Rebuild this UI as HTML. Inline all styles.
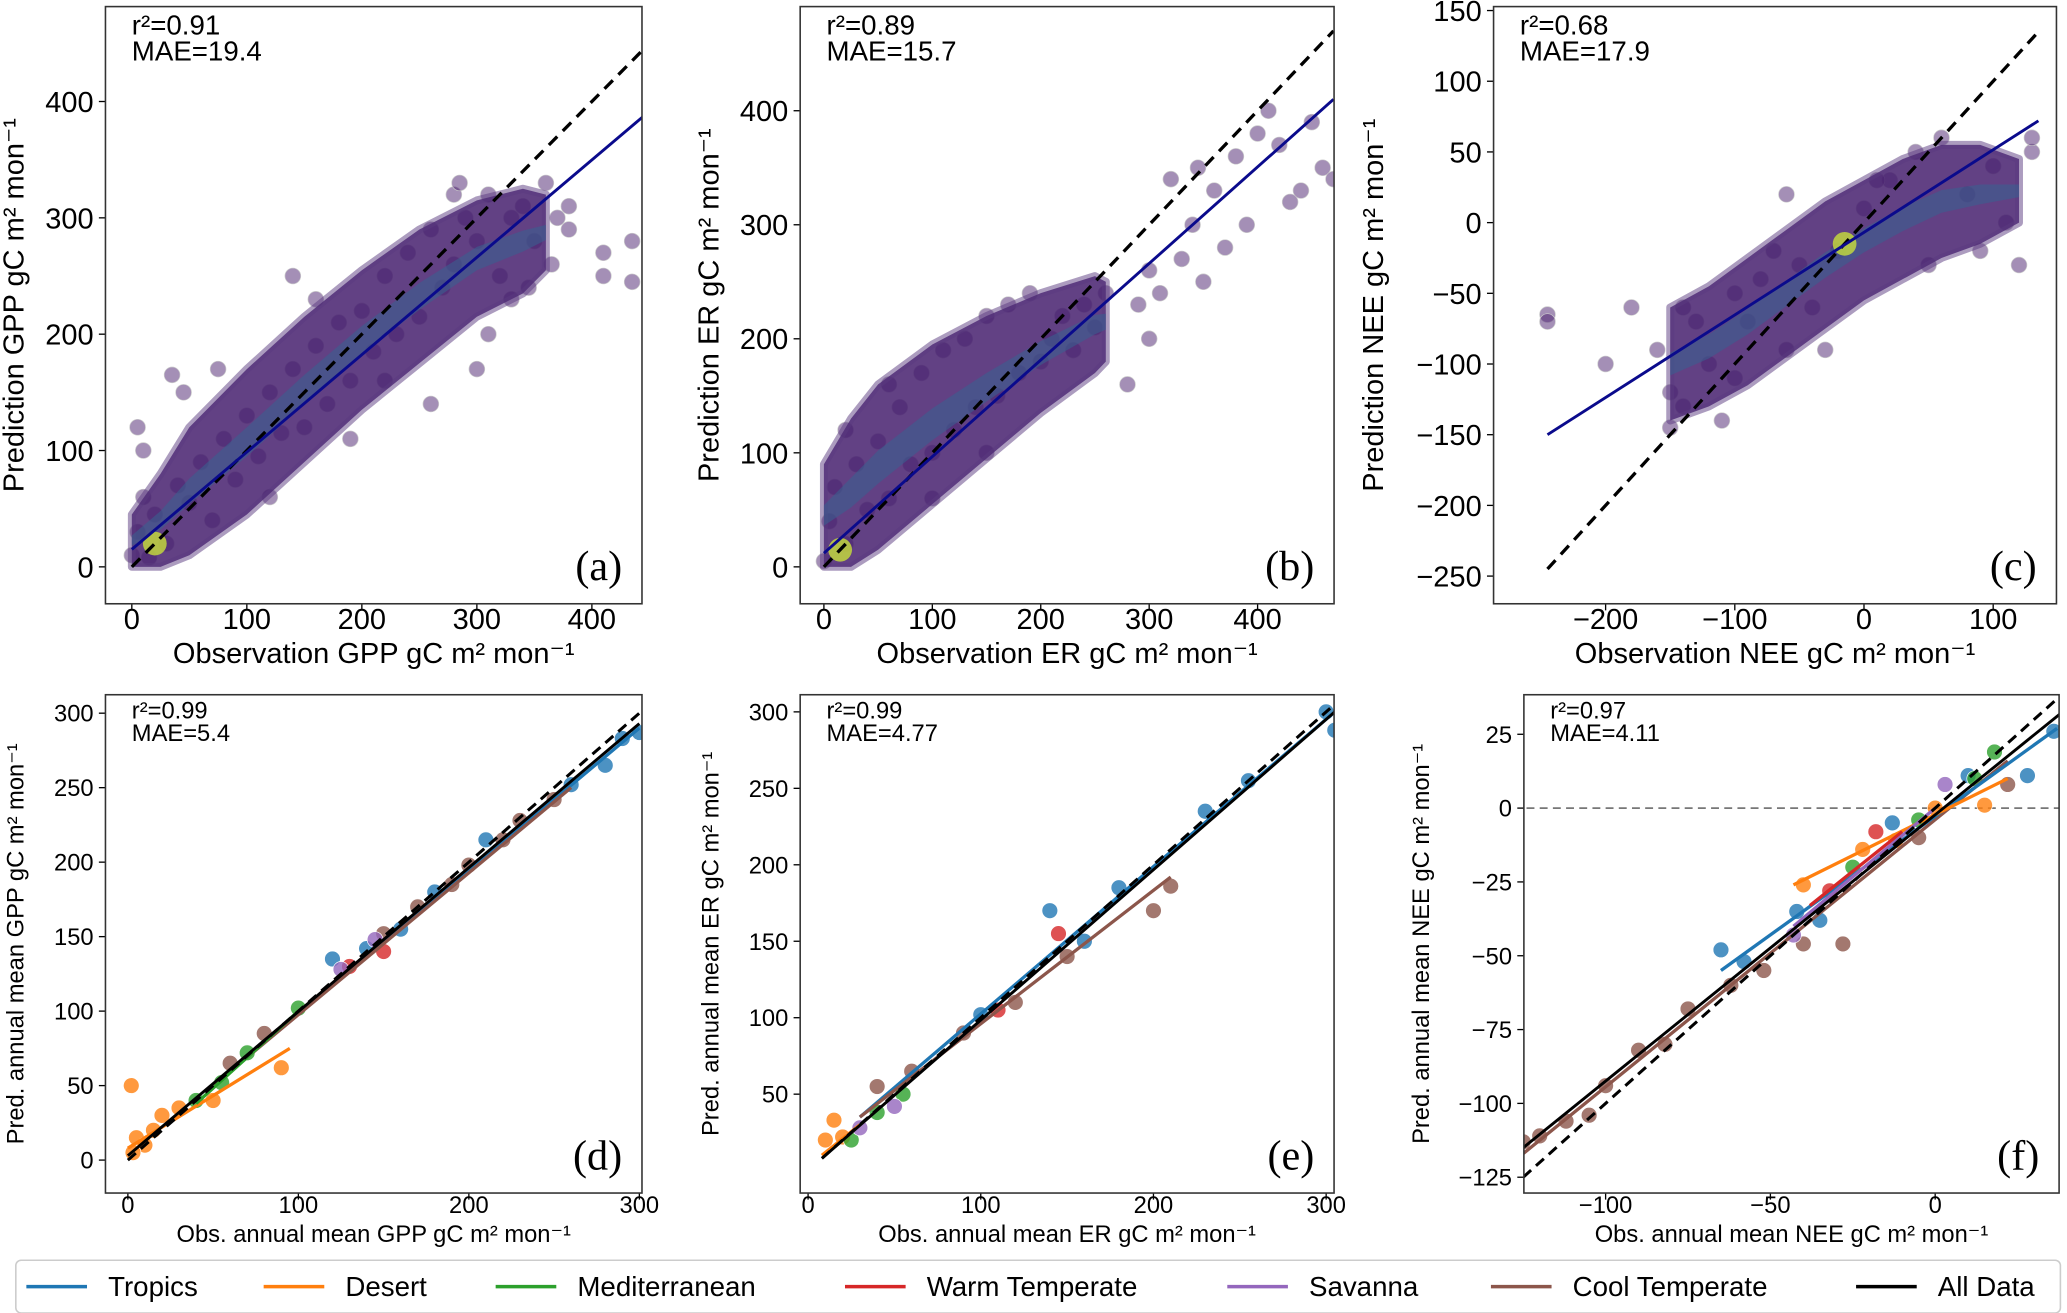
<!DOCTYPE html>
<html><head><meta charset="utf-8"><style>
html,body{margin:0;padding:0;background:#fff;}
svg{display:block;font-family:"Liberation Sans","DejaVu Sans",sans-serif;}
</style></head><body>
<svg id="fig" width="2067" height="1313" viewBox="0 0 1568 996" preserveAspectRatio="none" xmlns="http://www.w3.org/2000/svg"></svg>
<script>
// ---------- DATA ----------
const gppObs=[0,5,10,15,20,30,40,50,60,70,80,90,100,110,120,130,140,150,160,170,180,190,200,210,220,230,240,250,260,270,280,290,300,310,320,330,340,350,360,370,380,410,435,455,45,75,140,190,260,310,120,160,220,280,455,410,435,380,365,345,330,300,285,5,10,35];
const gppPred=[10,30,60,8,45,20,70,55,90,40,110,75,130,95,150,115,170,120,190,140,210,160,220,185,250,200,270,215,290,240,260,300,280,320,250,300,310,280,330,300,290,270,280,310,150,170,250,110,140,200,60,230,160,320,290,250,245,310,260,240,230,170,330,120,100,165];
const gppEnvX=[0,25,50,100,150,200,250,300,340,360];
const gppEnvLo=[0,0,10,45,90,135,175,215,235,255];
const gppEnvHi=[45,80,120,170,215,255,290,315,325,320];
const erObs=[0,5,10,20,30,40,50,60,70,80,90,100,110,120,130,140,150,160,170,180,190,200,210,220,230,240,250,260,280,300,320,340,360,380,400,420,440,460,20,60,100,150,300,350,390,410,430,450,470,370,345,330,310,290];
const erPred=[5,40,70,20,90,50,110,60,140,90,170,100,190,120,200,140,220,150,230,170,240,180,200,220,190,230,210,240,160,200,340,300,330,360,380,370,330,350,120,160,60,100,260,250,300,400,320,390,340,280,350,270,240,230];
const erEnvX=[0,25,50,100,150,200,250,260];
const erEnvLo=[0,0,15,55,95,135,170,180];
const erEnvHi=[90,130,160,195,220,240,255,250];
const neeObs=[-245,-245,-180,-160,-150,-140,-120,-100,-90,-80,-60,-50,-40,-20,0,20,40,60,80,100,110,130,-130,-110,-70,-30,10,50,90,-200,-100,-60,130,120,-140,-150];
const neePred=[-65,-70,-60,-90,-120,-130,-100,-110,-70,-40,-90,-30,-60,-20,10,30,50,60,20,40,0,50,-70,-140,-20,-90,30,-30,-20,-100,-50,20,60,-30,-60,-145];
const neeEnvX=[-150,-120,-90,-60,-30,0,30,60,90,120];
const neeEnvLo=[-140,-130,-115,-95,-75,-55,-40,-25,-15,0];
const neeEnvHi=[-60,-45,-25,-5,15,30,45,55,55,45];
const regions=["Tropics","Desert","Mediterranean","Warm Temperate","Savanna","Cool Temperate","All Data"];
const regionColors=["#1f77b4","#ff7f0e","#2ca02c","#d62728","#9467bd","#8c564b","#000000"];
// bottom panels
const dReg=[1,1,1,1,1,1,1,1,2,2,2,5,5,5,5,5,5,0,0,0,0,0,0,0,3,3,4,4,5,5,5,0,0,2,1];
const dObs=[2,5,10,15,20,30,50,90,40,70,100,60,80,150,200,230,250,120,140,160,180,210,260,300,130,150,125,145,170,190,220,280,290,55,3];
const dPred=[50,15,10,20,30,35,40,62,40,72,102,65,85,152,198,228,242,135,142,155,180,215,252,287,130,140,128,148,170,185,215,265,283,52,5];
const eReg=[1,1,1,2,2,2,4,4,5,5,5,5,5,5,0,0,0,0,0,0,3,3,5,0,0];
const eObs=[10,15,20,25,40,55,30,50,40,60,90,120,150,210,100,140,160,230,255,300,110,145,200,305,180];
const ePred=[20,33,22,20,38,50,28,42,55,65,90,110,140,186,102,170,150,235,255,300,105,155,170,288,185];
const fReg=[5,5,5,5,5,5,5,5,5,5,5,5,0,0,0,0,0,0,0,1,1,1,1,1,2,2,2,2,3,3,4,4,5,5,0];
const fObs=[-125,-120,-112,-105,-100,-90,-82,-75,-62,-52,-40,-28,-65,-58,-42,-35,-13,10,28,-40,-22,-12,0,15,-25,-5,12,18,-18,-32,-43,3,-5,22,36];
const fPred=[-113,-111,-106,-104,-94,-82,-80,-68,-60,-55,-46,-46,-48,-52,-35,-38,-5,11,11,-26,-14,-11,0,1,-20,-4,10,19,-8,-28,-43,8,-10,8,26];
// ---------- DRAW ----------
const svg=document.getElementById('fig');
const NS='http://www.w3.org/2000/svg';
function el(tag,attrs,parent,txt){const e=document.createElementNS(NS,tag);for(const k in attrs)e.setAttribute(k,attrs[k]);if(txt!==undefined)e.textContent=txt;(parent||svg).appendChild(e);return e;}
function lin(d0,d1,r0,r1){return v=>r0+(v-d0)*(r1-r0)/(d1-d0);}
function panel(p){
  const g=el('g',{});
  
  
  const X=lin(p.xd[0],p.xd[1],p.xr[0],p.xr[1]);
  const Y=lin(p.yd[0],p.yd[1],p.yr[0],p.yr[1]);
  p.X=X;p.Y=Y;p.g=g;
  const clip='clip'+p.id;
  const cp=el('clipPath',{id:clip},g);el('rect',{x:p.box[0],y:p.box[1],width:p.box[2]-p.box[0],height:p.box[3]-p.box[1]},cp);
  p.plot=el('g',{'clip-path':'url(#'+clip+')'},g);
  p.xt.forEach(t=>{const x=X(t);el('line',{x1:x,x2:x,y1:p.box[3],y2:p.box[3]+5,stroke:'#000'},g);
    const tx=el('text',{x:x,y:p.box[3]+p.tko,'text-anchor':'middle','font-size':p.fs},g,String(t).replace('-','\u2212'));
    });
  p.yt.forEach(t=>{const y=Y(t);el('line',{x1:p.box[0]-5,x2:p.box[0],y1:y,y2:y,stroke:'#000'},g);
    const tx=el('text',{x:p.box[0]-9,y:y+p.fs*0.36,'text-anchor':'end','font-size':p.fs},g,String(t).replace('-','\u2212'));
    });
  const xl=el('text',{x:(p.box[0]+p.box[2])/2,y:p.box[3]+p.xlo,'text-anchor':'middle','font-size':p.lfs},g,p.xlab);
  
  const yl=el('text',{transform:'translate('+(p.box[0]+p.ylo)+','+(p.box[1]+p.box[3])/2+') rotate(-90)','text-anchor':'middle','font-size':p.lfs},g,p.ylab);
  
  const st=el('text',{x:p.box[0]+20,y:p.box[1]+p.sfs,'font-size':p.sfs},g);
  
  el('tspan',{x:p.box[0]+20,dy:0},st,p.r2);el('tspan',{x:p.box[0]+20,dy:p.sfs*0.95},st,p.mae);
  const pl=el('text',{x:p.box[2]-15,y:p.box[3]-18,'text-anchor':'end','font-size':32,'font-family':'Liberation Serif, serif'},g,p.tag);
  
  return p;
}
function frame(p){el('rect',{x:p.box[0],y:p.box[1],width:p.box[2]-p.box[0],height:p.box[3]-p.box[1],fill:'none',stroke:'#333','stroke-width':1.2},p.g);}
function line(p,x0,y0,x1,y1,attrs,name){const l=el('line',Object.assign({x1:p.X(x0),y1:p.Y(y0),x2:p.X(x1),y2:p.Y(y1)},attrs),p.plot);
  }
function topPanel(p,ex,lo,hi,ox,oy,fit){
  panel(p);
  ox.forEach((x,i)=>{const c=el('circle',{cx:p.X(x),cy:p.Y(oy[i]),r:6,fill:'#4a1f6e','fill-opacity':0.5,stroke:'#ccc','stroke-width':0.5},p.plot);
    });
  let pts=ex.map((x,i)=>p.X(x)+','+p.Y(hi[i])).concat(ex.slice().reverse().map((x,i)=>p.X(x)+','+p.Y(lo[ex.length-1-i])));
  const cloud=el('polygon',{points:pts.join(' '),fill:'#46206e','fill-opacity':0.85,stroke:'#5a3a80','stroke-width':6,'stroke-linejoin':'round','stroke-opacity':0.5},p.plot);
  
  const core=el('polygon',{points:ex.map((x,i)=>p.X(x)+','+p.Y((lo[i]*3+hi[i]*2)/5)).concat(ex.slice().reverse().map((x,i)=>{const j=ex.length-1-i;return p.X(x)+','+p.Y((lo[j]*2+hi[j]*3)/5);})).join(' '),fill:'#3b5f8f','fill-opacity':0.6},p.plot);
  
  const hot=el('circle',{cx:p.X(fit[4]),cy:p.Y(fit[4]),r:9,fill:'#c8e03a','fill-opacity':0.8},p.plot);
  
  line(p,fit[0],fit[0],fit[1],fit[1],{stroke:'#000','stroke-width':2.5,'stroke-dasharray':'9,6'},'one-to-one-line');
  line(p,fit[0],fit[2],fit[1],fit[3],{stroke:'#0a0a8c','stroke-width':2.2},'regression-line');
  frame(p);
}
function botPanel(p,reg,ox,oy,lines,allFit,zero){
  panel(p);
  if(zero){line(p,p.xd[0]-80,0,p.xd[1]+80,0,{stroke:'#777','stroke-width':1.3,'stroke-dasharray':'6,4'},'zero-line');}
  ox.forEach((x,i)=>{const c=el('circle',{cx:p.X(x),cy:p.Y(oy[i]),r:6,fill:regionColors[reg[i]],'fill-opacity':0.8,stroke:'#fff','stroke-width':0.5},p.plot);
    });
  lines.forEach(l=>line(p,l[1],l[2],l[3],l[4],{stroke:regionColors[l[0]],'stroke-width':2.5},'fit-'+regions[l[0]].toLowerCase().replace(' ','-')));
  line(p,allFit[0],allFit[0],allFit[1],allFit[1],{stroke:'#000','stroke-width':2.3,'stroke-dasharray':'8,5'},'one-to-one-line');
  line(p,allFit[0],allFit[2],allFit[1],allFit[3],{stroke:'#000','stroke-width':2.2},'fit-all-data');
  frame(p);
}
const U=' gC m\u00b2 mon\u207b\u00b9';
topPanel({id:'a',box:[80,5,487,458],xd:[0,400],xr:[100,449],yd:[0,400],yr:[430,77],xt:[0,100,200,300,400],yt:[0,100,200,300,400],fs:22,tko:19,lfs:22,sfs:21,xlo:45,ylo:-62,xlab:'Observation GPP'+U,ylab:'Prediction GPP'+U,r2:'r\u00b2=0.91',mae:'MAE=19.4',tag:'(a)'},
  gppEnvX,gppEnvLo,gppEnvHi,gppObs,gppPred,[0,460,15,400,20]);
topPanel({id:'b',box:[607,5,1012,458],xd:[0,400],xr:[625,954],yd:[0,400],yr:[430,84],xt:[0,100,200,300,400],yt:[0,100,200,300,400],fs:22,tko:19,lfs:22,sfs:21,xlo:45,ylo:-62,xlab:'Observation ER'+U,ylab:'Prediction ER'+U,r2:'r\u00b2=0.89',mae:'MAE=15.7',tag:'(b)'},
  erEnvX,erEnvLo,erEnvHi,erObs,erPred,[0,470,12,410,15]);
topPanel({id:'c',box:[1133,5,1560,458],xd:[-200,100],xr:[1218,1512],yd:[-250,150],yr:[437,8],xt:[-200,-100,0,100],yt:[-250,-200,-150,-100,-50,0,50,100,150],fs:22,tko:19,lfs:22,sfs:21,xlo:45,ylo:-84,xlab:'Observation NEE'+U,ylab:'Prediction NEE'+U,r2:'r\u00b2=0.68',mae:'MAE=17.9',tag:'(c)'},
  neeEnvX,neeEnvLo,neeEnvHi,neeObs,neePred,[-245,135,-150,72,-15]);
botPanel({id:'d',box:[80,527,487,905],xd:[0,300],xr:[97,485],yd:[0,300],yr:[880,541],xt:[0,100,200,300],yt:[0,50,100,150,200,250,300],fs:18,tko:15,lfs:18,sfs:18,xlo:37,ylo:-62,xlab:'Obs. annual mean GPP'+U,ylab:'Pred. annual mean GPP'+U,r2:'r\u00b2=0.99',mae:'MAE=5.4',tag:'(d)'},
  dReg,dObs,dPred,[[1,0,8,95,75],[0,60,60,300,290],[5,50,50,260,250],[2,40,38,100,100]],[0,300,3,293]);
botPanel({id:'e',box:[607,527,1012,905],xd:[0,300],xr:[613,1006],yd:[0,300],yr:[888,540],xt:[0,100,200,300],yt:[50,100,150,200,250,300],fs:18,tko:15,lfs:18,sfs:18,xlo:37,ylo:-62,xlab:'Obs. annual mean ER'+U,ylab:'Pred. annual mean ER'+U,r2:'r\u00b2=0.99',mae:'MAE=4.77',tag:'(e)'},
  eReg,eObs,ePred,[[0,30,35,305,300],[5,30,35,210,192],[1,8,10,30,30]],[8,305,8,300]);
botPanel({id:'f',box:[1156,527,1562,905],xd:[-100,0],xr:[1218,1468],yd:[-125,25],yr:[893,557],xt:[-100,-50,0],yt:[-125,-100,-75,-50,-25,0,25],fs:18,tko:15,lfs:18,sfs:18,xlo:37,ylo:-72,xlab:'Obs. annual mean NEE'+U,ylab:'Pred. annual mean NEE'+U,r2:'r\u00b2=0.97',mae:'MAE=4.11',tag:'(f)'},
  fReg,fObs,fPred,[[5,-125,-117,22,16],[0,-65,-55,37,27],[1,-43,-26,22,10],[3,-38,-33,-10,-8],[4,-43,-40,0,0]],[-125,38,-115,32],true);
// legend
const lg=el('g',{});


el('rect',{x:12,y:956,width:1551,height:40,rx:4,fill:'#fff',stroke:'#ccc','stroke-width':1.2},lg);
const lx=[20,200,376,641,931,1131,1408];
regions.forEach((r,i)=>{const e=el('g',{},lg);
  
  
  el('line',{x1:lx[i],x2:lx[i]+46,y1:976,y2:976,stroke:regionColors[i],'stroke-width':2.6},e);
  el('text',{x:lx[i]+62,y:983,'font-size':21},e,r);});
</script>
</body></html>
